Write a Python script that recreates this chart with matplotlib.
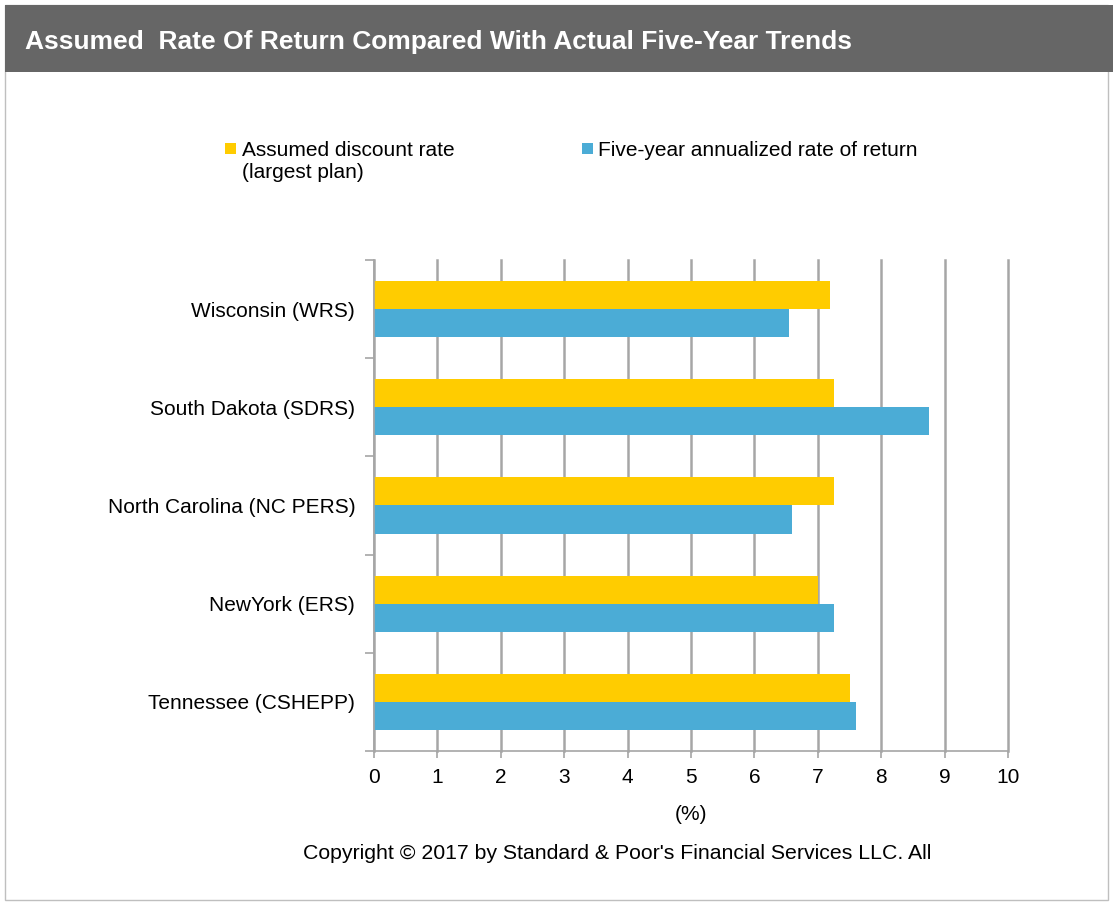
import numpy as np
import matplotlib.pyplot as plt
from matplotlib.patches import Rectangle

plans = ["Wisconsin (WRS)", "South Dakota (SDRS)", "North Carolina (NC PERS)",
         "NewYork (ERS)", "Tennessee (CSHEPP)"]
assumed_rate = [7.2, 7.25, 7.25, 7.0, 7.5]
five_year_return = [6.55, 8.75, 6.6, 7.25, 7.6]
x_ticks = list(range(0, 11))
legend_labels = ["Assumed discount rate\n(largest plan)", "Five-year annualized rate of return"]

YELLOW = "#FFCC00"
BLUE = "#4BACD6"
GRID = "#A6A6A6"

plt.rcParams["font.family"] = ["Liberation Sans", "DejaVu Sans"]

fig = plt.figure(figsize=(11.13, 9.05), dpi=100)
W, H = 1113, 905

def fx(px):
    return px / W

def fy(py):
    return 1 - py / H

# --- header band and panel border ---
fig.patches.append(Rectangle((fx(5), fy(900)), fx(1103), 895 / H, transform=fig.transFigure,
                             facecolor="none", edgecolor="#BFBFBF", linewidth=1, zorder=-5))
fig.patches.append(Rectangle((fx(5), fy(72)), fx(1108), 67 / H, transform=fig.transFigure,
                             facecolor="#666666", edgecolor="none", zorder=-5))
fig.text(fx(25), fy(42), "Assumed  Rate Of Return Compared With Actual Five-Year Trends",
         color="white", fontsize=19, fontweight="bold", va="center", ha="left")

ax = fig.add_axes([fx(374), fy(751), fx(634), 491 / H])
y = np.arange(len(plans))
h = 0.286
ax.barh(y - h / 2, assumed_rate, height=h, color=YELLOW)
ax.barh(y + h / 2, five_year_return, height=h, color=BLUE)

ax.set_xlim(0, 10)
ax.set_ylim(len(plans) - 0.5, -0.5)
ax.set_xticks(x_ticks)
ax.set_yticks(y)
ax.set_yticklabels(plans)
ax.set_yticks(np.arange(-0.5, len(plans)), minor=True)
ax.tick_params(axis="y", which="major", length=0, pad=13.5, labelsize=15)
ax.tick_params(axis="y", which="minor", length=6.5, color=GRID, width=1.2)
ax.tick_params(axis="x", length=5, color=GRID, width=1.2, labelsize=15, pad=7)

ax.set_axisbelow(True)
ax.grid(axis="x", color=GRID, linewidth=1.8)
for gl in ax.get_xgridlines():
    gl.set_clip_on(False)
for s in ["top", "right"]:
    ax.spines[s].set_visible(False)
for s in ["left", "bottom"]:
    ax.spines[s].set_color(GRID)
    ax.spines[s].set_linewidth(1.2)

ax.set_xlabel("(%)", fontsize=15, labelpad=13)

# legend drawn by hand so the swatch sits on the first text line
for sx, tx, color, label in [(225, 242, YELLOW, legend_labels[0]), (582, 598, BLUE, legend_labels[1])]:
    fig.patches.append(Rectangle((fx(sx), fy(154)), fx(11), 11 / H, transform=fig.transFigure,
                                 facecolor=color, edgecolor="none"))
    fig.text(fx(tx), fy(141), label, fontsize=15, ha="left", va="top", linespacing=1.2)

fig.text(fx(617), fy(853), "Copyright \u00a9 2017 by Standard & Poor's Financial Services LLC. All",
         fontsize=15.3, ha="center", va="center")

fig.savefig("out.png", dpi=100)
